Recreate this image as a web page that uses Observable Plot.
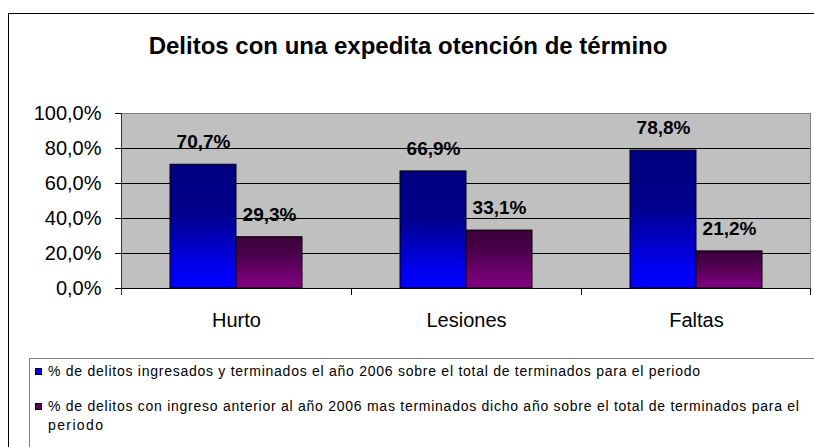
<!DOCTYPE html>
<html>
<head>
<meta charset="utf-8">
<script src="https://cdn.jsdelivr.net/npm/d3@7"></script>
<script src="https://cdn.jsdelivr.net/npm/@observablehq/plot@0.6"></script>
<style>
  html, body { margin: 0; padding: 0; background: #fff; }
  #chart { position: relative; width: 814px; height: 447px; overflow: hidden; font-family: "Liberation Sans", Arial, sans-serif; }
  #border { position: absolute; left: 8px; top: 13px; width: 900px; height: 600px; border: 1px solid #000; box-sizing: border-box; pointer-events: none; }
  #plot { position: absolute; left: 0; top: 0; }
  #title { position: absolute; left: 0; top: 34px; width: 816px; text-align: center; font-weight: bold; font-size: 24px; line-height: 24px; color: #000; }
  #legend { position: absolute; left: 0; top: 0; }
</style>
</head>
<body>
<div id="chart">
  <div id="plot"></div>
  <div id="border"></div>
  <div id="title">Delitos con una expedita otención de término</div>
  <svg id="legend" width="814" height="447"></svg>
</div>
<script>
// ---- data ----
const categories = ["Hurto", "Lesiones", "Faltas"];
const seriesNames = [
  "% de delitos ingresados y terminados el año 2006 sobre el total de terminados para el periodo",
  "% de delitos con ingreso anterior al año 2006 mas terminados dicho año sobre el total de terminados para el periodo"
];
const ingresados2006 = [70.7, 66.9, 78.8];
const anteriores2006 = [29.3, 33.1, 21.2];
const yTicks = [0, 20, 40, 60, 80, 100];

const rows = categories.flatMap((c, i) => [
  {cat: c, serie: seriesNames[0], value: ingresados2006[i]},
  {cat: c, serie: seriesNames[1], value: anteriores2006[i]}
]);
const fmt = v => v.toFixed(1).replace(".", ",") + "%";

const plot = Plot.plot({
  width: 814,
  height: 447,
  marginLeft: 121,
  marginRight: 3,
  marginTop: 113,
  marginBottom: 159,
  style: {background: "transparent", fontFamily: "'Liberation Sans', Arial, sans-serif", fontSize: "20px", color: "#000"},
  fx: {domain: categories, padding: 0, label: null, axis: "bottom", tickSize: 0, tickPadding: 24},
  x: {domain: seriesNames, paddingInner: 0, paddingOuter: 0.735, axis: null},
  y: {domain: [0, 100], ticks: yTicks, tickFormat: fmt, tickSize: 6, tickPadding: 14, label: null},
  color: {domain: seriesNames, range: ["url(#gBlue)", "url(#gPurple)"]},
  marks: [
    Plot.ruleY(yTicks.filter(d => d > 0 && d < 100), {stroke: "#000", strokeWidth: 1}),
    Plot.ruleY([100], {stroke: "#808080", strokeWidth: 1}),
    Plot.barY(rows, {fx: "cat", x: "serie", y: "value", fill: "serie", stroke: "#000", strokeWidth: 1}),
    Plot.ruleY([0], {stroke: "#000", strokeWidth: 1}),
    Plot.text(rows, {fx: "cat", x: "serie", y: "value", text: d => fmt(d.value), lineAnchor: "bottom", dy: -16.5, fontWeight: "bold", fontSize: 19, fill: "#000"})
  ]
});

// gradients for bars
const svg = d3.select(plot);
const defs = svg.insert("defs", ":first-child");
function grad(id, stops) {
  const g = defs.append("linearGradient").attr("id", id).attr("x1", 0).attr("y1", 0).attr("x2", 0).attr("y2", 1);
  stops.forEach(([o, c]) => g.append("stop").attr("offset", o).attr("stop-color", c));
}
grad("gBlue", [[0, "#000080"], [0.4, "#00008C"], [0.85, "#0000F0"], [1, "#0000FF"]]);
grad("gPurple", [[0, "#3C003C"], [0.35, "#4A004A"], [0.85, "#780078"], [1, "#800080"]]);

// plot-area background and frame decorations, positioned from the scales
const ys = plot.scale("y"), fxs = plot.scale("fx");
const y0 = ys.apply(0), y100 = ys.apply(100);
const bounds = categories.map(c => fxs.apply(c));
const xStart = bounds[0];
const xEnd = bounds[bounds.length - 1] + fxs.bandwidth;
bounds.push(xEnd);
svg.insert("rect", "defs + *")
  .attr("x", xStart).attr("y", y100).attr("width", xEnd - xStart).attr("height", y0 - y100)
  .attr("fill", "#C0C0C0");
const deco = svg.append("g");
deco.append("line").attr("x1", xEnd - 0.5).attr("x2", xEnd - 0.5).attr("y1", y100).attr("y2", y0).attr("stroke", "#808080");
bounds.forEach((b, i) => {
  const x = i === bounds.length - 1 ? b - 0.5 : b + 0.5;
  deco.append("line").attr("x1", x).attr("x2", x).attr("y1", i === 0 ? y100 : y0).attr("y2", y0 + 7).attr("stroke", i === 0 ? "#333" : "#000");
});
document.getElementById("plot").appendChild(plot);

// legend
const lg = d3.select("#legend");
lg.append("rect").attr("x", 29.5).attr("y", 358.5).attr("width", 900).attr("height", 200).attr("fill", "none").attr("stroke", "#808080");
const swatches = ["#0000F0", "#600060"];
const legendLines = [
  [{text: seriesNames[0], y: 376, len: 652}],
  (() => {
    const words = seriesNames[1].split(" ");
    const last = words.pop();
    return [{text: words.join(" "), y: 411, len: 751}, {text: last, y: 430, len: 55}];
  })()
];
const swY = [368, 403];
legendLines.forEach((lines, i) => {
  lg.append("rect").attr("x", 35.5).attr("y", swY[i] + 0.5).attr("width", 6).attr("height", 6)
    .attr("fill", swatches[i]).attr("stroke", "#000");
  lines.forEach(l => {
    lg.append("text").attr("x", 48).attr("y", l.y)
      .attr("font-family", "'Liberation Sans', Arial, sans-serif").attr("font-size", 14)
      .attr("textLength", l.len).attr("lengthAdjust", "spacing").attr("fill", "#000")
      .text(l.text);
  });
});
</script>
</body>
</html>
